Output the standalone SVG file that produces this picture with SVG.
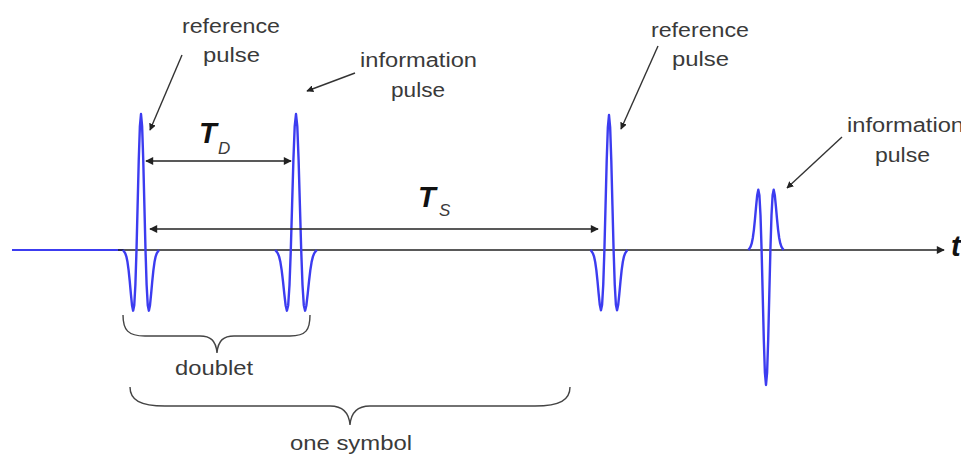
<svg xmlns="http://www.w3.org/2000/svg" xmlns:xlink="http://www.w3.org/1999/xlink" width="961" height="457" viewBox="0 0 961 457">
<style>
.lbl{font-family:"Liberation Sans",Arial,sans-serif;font-size:20px;fill:#3a3a3a}
.big{font-family:"Liberation Sans",Arial,sans-serif;font-size:29px;font-weight:bold;font-style:italic;fill:#111}
.sub{font-family:"Liberation Sans",Arial,sans-serif;font-size:17px;font-style:italic;fill:#3a3a3a}
.wave{fill:none;stroke:#3c3cf0;stroke-width:2.4;stroke-linejoin:round}
.ptr{fill:none;stroke:#333;stroke-width:1.4;marker-end:url(#ah)}
.dim{fill:none;stroke:#222;stroke-width:1.5;marker-start:url(#ah2);marker-end:url(#ah2)}
.brace{fill:none;stroke:#444;stroke-width:1.4}
</style>
<defs>
<marker id="ah" viewBox="0 0 10 10" refX="9" refY="5" markerWidth="7" markerHeight="7" markerUnits="userSpaceOnUse" orient="auto-start-reverse"><path d="M0,0 L10,5 L0,10 z" fill="#222"/></marker>
<marker id="ah2" viewBox="0 0 10 10" refX="9" refY="5" markerWidth="9" markerHeight="8" markerUnits="userSpaceOnUse" orient="auto-start-reverse"><path d="M0,0 L10,5 L0,10 z" fill="#222"/></marker>
<path id="ricker" vector-effect="non-scaling-stroke" d="M-4,0 L-3.75,0.0116 L-3.5,0.0246 L-3.25,0.0486 L-3,0.0889 L-2.75,0.1496 L-2.5,0.2307 L-2.25,0.3232 L-2,0.406 L-1.75,0.4461 L-1.5,0.4058 L-1.25,0.2575 L-1,0 L-0.75,-0.3302 L-0.5,-0.6619 L-0.25,-0.9087 L0,-1 L0.25,-0.9087 L0.5,-0.6619 L0.75,-0.3302 L1,0 L1.25,0.2575 L1.5,0.4058 L1.75,0.4461 L2,0.406 L2.25,0.3232 L2.5,0.2307 L2.75,0.1496 L3,0.0889 L3.25,0.0486 L3.5,0.0246 L3.75,0.0116 L4,0"/>
</defs>
<rect width="961" height="457" fill="#fff"/>

<g id="axis">
<line x1="12" y1="250" x2="124" y2="250" stroke="#3c3cf0" stroke-width="2"/>
<line x1="118" y1="250" x2="944" y2="250" stroke="#222" stroke-width="1.5" marker-end="url(#ah2)"/>
<text class="big" x="951" y="256">t</text>
</g>

<g id="ref-pulse-1">
<use xlink:href="#ricker" class="wave" transform="translate(141,250) scale(4.5,136)"/>
<text class="lbl" x="182" y="33" textLength="98" lengthAdjust="spacingAndGlyphs">reference</text>
<text class="lbl" x="203" y="62" textLength="57" lengthAdjust="spacingAndGlyphs">pulse</text>
</g>

<g id="info-pulse-1">
<use xlink:href="#ricker" class="wave" transform="translate(296,250) scale(5.2,136)"/>
<text class="lbl" x="360" y="67" textLength="117" lengthAdjust="spacingAndGlyphs">information</text>
<text class="lbl" x="391" y="97" textLength="54" lengthAdjust="spacingAndGlyphs">pulse</text>
</g>

<g id="ref-pulse-2">
<use xlink:href="#ricker" class="wave" transform="translate(609,250) scale(4.6,135)"/>
<text class="lbl" x="651" y="37" textLength="98" lengthAdjust="spacingAndGlyphs">reference</text>
<text class="lbl" x="672" y="66" textLength="57" lengthAdjust="spacingAndGlyphs">pulse</text>
</g>

<g id="info-pulse-2">
<use xlink:href="#ricker" class="wave" transform="translate(766,250) scale(4.4,-135)"/>
<text class="lbl" x="847" y="132" textLength="117" lengthAdjust="spacingAndGlyphs">information</text>
<text class="lbl" x="875" y="162" textLength="55" lengthAdjust="spacingAndGlyphs">pulse</text>
</g>

<g id="td-label">
<text class="big" x="199" y="143">T</text>
<text class="sub" x="218" y="154">D</text>
</g>

<g id="ts-label">
<text class="big" x="418" y="207">T</text>
<text class="sub" x="439" y="216">S</text>
</g>

<g id="doublet">
<path class="brace" d="M123,315 C123,330 128,336 145,336 L200,336 C210,336 216,340 217,353 C218,340 224,336 234,336 L290,336 C306,336 310,330 310,315"/>
<text class="lbl" x="175" y="375" textLength="78" lengthAdjust="spacingAndGlyphs">doublet</text>
</g>

<g id="one-symbol">
<path class="brace" d="M130,387 C130,400 140,406 165,406 L330,406 C342,406 349,412 350,425 C351,412 358,406 370,406 L535,406 C560,406 570,400 570,387"/>
<text class="lbl" x="290" y="450" textLength="122" lengthAdjust="spacingAndGlyphs">one symbol</text>
</g>

<g id="connectors">
<line class="ptr" x1="182" y1="55" x2="150" y2="130"/>
<line class="ptr" x1="355" y1="73" x2="307" y2="91"/>
<line class="ptr" x1="658" y1="46" x2="621" y2="129"/>
<line class="ptr" x1="842" y1="137" x2="787" y2="188"/>
<line class="dim" x1="146" y1="161" x2="291" y2="161"/>
<line class="dim" x1="150" y1="229" x2="598" y2="229"/>
</g>
</svg>
